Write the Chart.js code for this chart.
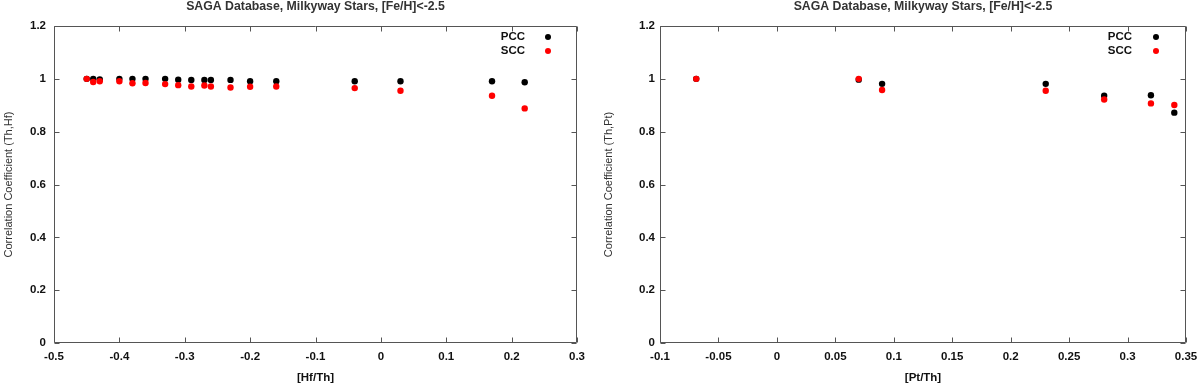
<!DOCTYPE html>
<html>
<head>
<meta charset="utf-8">
<script src="https://cdn.jsdelivr.net/npm/chart.js@4.4.0/dist/chart.umd.min.js"></script>
<style>
  html, body { margin: 0; padding: 0; background: #fff; }
  #wrap { position: relative; width: 1200px; height: 386px; }
  .panel { position: absolute; top: 0; width: 600px; height: 386px; }
</style>
</head>
<body>
<div id="wrap">
  <div class="panel" style="left:0"><canvas id="hfChart" width="600" height="386"></canvas></div>
  <div class="panel" style="left:600px"><canvas id="ptChart" width="600" height="386"></canvas></div>
</div>
<script>
// left panel: Th vs Hf
const hfX   = [-0.45, -0.44, -0.43, -0.40, -0.38, -0.36, -0.33, -0.31, -0.29, -0.27, -0.26, -0.23, -0.20, -0.16, -0.04, 0.03, 0.17, 0.22];
const hfPcc = [1.0, 1.0, 0.998, 1.0, 1.0, 1.0, 1.0, 0.997, 0.996, 0.996, 0.996, 0.996, 0.991, 0.991, 0.991, 0.991, 0.991, 0.987];
const hfScc = [1.0, 0.988, 0.991, 0.991, 0.983, 0.984, 0.980, 0.976, 0.971, 0.975, 0.971, 0.967, 0.970, 0.971, 0.965, 0.955, 0.936, 0.888];

// right panel: Th vs Pt
const ptX   = [-0.069, 0.07, 0.09, 0.23, 0.28, 0.32, 0.34];
const ptPcc = [1.0, 0.997, 0.981, 0.981, 0.936, 0.938, 0.872];
const ptScc = [1.0, 1.0, 0.958, 0.955, 0.922, 0.907, 0.901];

// axis ticks
const hfXTicks  = [-0.5, -0.4, -0.3, -0.2, -0.1, 0, 0.1, 0.2, 0.3];
const hfXLabels = ['-0.5', '-0.4', '-0.3', '-0.2', '-0.1', '0', '0.1', '0.2', '0.3'];
const ptXTicks  = [-0.1, -0.05, 0, 0.05, 0.1, 0.15, 0.2, 0.25, 0.3, 0.35];
const ptXLabels = ['-0.1', '-0.05', '0', '0.05', '0.1', '0.15', '0.2', '0.25', '0.3', '0.35'];
const yTicks  = [0, 0.2, 0.4, 0.6, 0.8, 1, 1.2];
const yLabels = ['0', '0.2', '0.4', '0.6', '0.8', '1', '1.2'];

const titleText = 'SAGA Database, Milkyway Stars, [Fe/H]<-2.5';
const fontFamily = '"Liberation Sans", Arial, sans-serif';
const frameColor = '#555';
const textColor = '#111';

// box round the plot with short inward ticks on all four sides
const frameTicks = {
  id: 'frameTicks',
  beforeDatasetsDraw(chart) {
    const { ctx, chartArea: a, scales: { x, y } } = chart;
    const L = Math.round(a.left) + 0.5, R = Math.round(a.right) - 0.5;
    const T = Math.round(a.top) + 0.5, B = Math.round(a.bottom) - 0.5;
    ctx.save();
    ctx.strokeStyle = frameColor;
    ctx.lineWidth = 1;
    ctx.beginPath();
    ctx.rect(L, T, R - L, B - T);
    x.ticks.forEach(t => {
      const px = Math.round(x.getPixelForValue(t.value)) + 0.5;
      ctx.moveTo(px, B); ctx.lineTo(px, B - 5);
      ctx.moveTo(px, T); ctx.lineTo(px, T + 5);
    });
    y.ticks.forEach(t => {
      const py = Math.round(y.getPixelForValue(t.value)) + 0.5;
      ctx.moveTo(L, py); ctx.lineTo(L + 5, py);
      ctx.moveTo(R, py); ctx.lineTo(R - 5, py);
    });
    ctx.stroke();
    ctx.restore();
  }
};

// gnuplot style key: label then marker, top right inside the plot
const cornerLegend = {
  id: 'cornerLegend',
  afterDatasetsDraw(chart, args, opts) {
    const { ctx, chartArea: a } = chart;
    ctx.save();
    ctx.font = 'bold 11.5px ' + fontFamily;
    ctx.textAlign = 'right';
    ctx.textBaseline = 'middle';
    chart.data.datasets.forEach((ds, i) => {
      const yy = a.top + 11 + i * 14;
      ctx.fillStyle = textColor;
      ctx.fillText(ds.label, a.right - opts.textGap, yy);
      ctx.fillStyle = ds.backgroundColor;
      ctx.beginPath();
      ctx.arc(a.right - opts.markGap, yy, 3, 0, Math.PI * 2);
      ctx.fill();
    });
    ctx.restore();
  }
};

function makeChart(id, xs, pcc, scc, opt) {
  return new Chart(document.getElementById(id), {
    type: 'scatter',
    data: {
      datasets: [
        { label: 'PCC', data: xs.map((x, i) => ({ x, y: pcc[i] })), backgroundColor: '#000', borderColor: '#000', pointRadius: 3.2, borderWidth: 0, order: 1 },
        { label: 'SCC', data: xs.map((x, i) => ({ x, y: scc[i] })), backgroundColor: '#ff0000', borderColor: '#ff0000', pointRadius: 3.2, borderWidth: 0, order: 0 }
      ]
    },
    options: {
      responsive: false,
      animation: false,
      layout: { padding: { left: 0, right: opt.padRight, top: 0, bottom: 0 } },
      plugins: {
        legend: { display: false },
        tooltip: { enabled: false },
        title: {
          display: true,
          text: titleText,
          fullSize: false,
          color: '#333',
          font: { family: fontFamily, size: 12.3, weight: 'bold', lineHeight: 1 },
          padding: { top: 0, bottom: 13.7 }
        },
        cornerLegend: { textGap: opt.textGap, markGap: opt.markGap }
      },
      scales: {
        x: {
          type: 'linear',
          min: opt.xTicks[0],
          max: opt.xTicks[opt.xTicks.length - 1],
          afterBuildTicks: s => { s.ticks = opt.xTicks.map(v => ({ value: v })); },
          afterFit: s => { s.height = 43; s.paddingLeft = 0; s.paddingRight = 0; },
          grid: { display: false, drawTicks: false },
          border: { display: false },
          ticks: {
            callback: (v, i) => opt.xLabels[i],
            color: textColor,
            font: { family: fontFamily, size: 11.5, weight: 'bold' },
            padding: 7,
            maxRotation: 0,
            autoSkip: false
          },
          title: {
            display: true,
            text: opt.xTitle,
            color: textColor,
            font: { family: fontFamily, size: 11.5, weight: 'bold' },
            padding: { top: 0, bottom: 1 }
          }
        },
        y: {
          min: 0,
          max: 1.2,
          afterBuildTicks: s => { s.ticks = yTicks.map(v => ({ value: v })); },
          afterFit: s => { s.width = opt.yWidth; s.paddingTop = 0; s.paddingBottom = 0; },
          grid: { display: false, drawTicks: false },
          border: { display: false },
          ticks: {
            callback: (v, i) => yLabels[i],
            color: textColor,
            font: { family: fontFamily, size: 11.5, weight: 'bold' },
            padding: opt.yPad
          },
          title: {
            display: true,
            text: opt.yTitle,
            color: '#333',
            font: { family: fontFamily, size: 11 },
            padding: { top: 2, bottom: 0 }
          }
        }
      }
    },
    plugins: [frameTicks, cornerLegend]
  });
}

makeChart('hfChart', hfX, hfPcc, hfScc, {
  xTicks: hfXTicks, xLabels: hfXLabels, xTitle: '[Hf/Th]',
  yTitle: 'Correlation Coefficient (Th,Hf)',
  padRight: 23, yWidth: 54, yPad: 8, textGap: 52, markGap: 29
});

makeChart('ptChart', ptX, ptPcc, ptScc, {
  xTicks: ptXTicks, xLabels: ptXLabels, xTitle: '[Pt/Th]',
  yTitle: 'Correlation Coefficient (Th,Pt)',
  padRight: 14, yWidth: 60, yPad: 5, textGap: 54, markGap: 30
});
</script>
</body>
</html>
